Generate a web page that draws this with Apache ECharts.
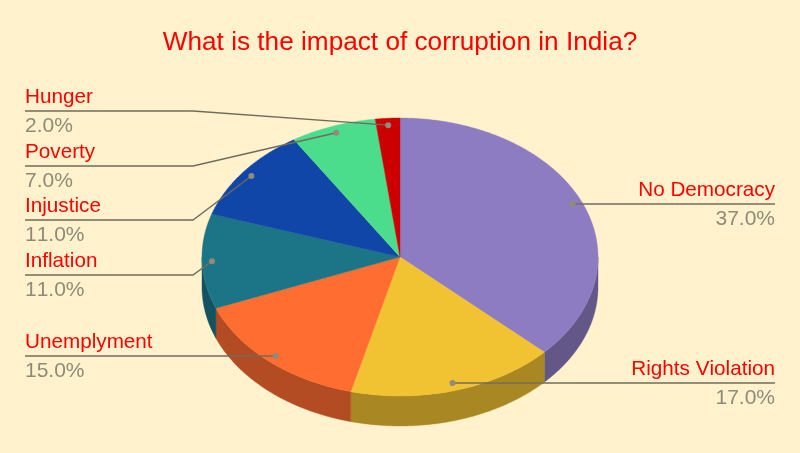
<!DOCTYPE html>
<html><head><meta charset="utf-8">
<style>html,body{margin:0;padding:0;background:#fff2cc}#c{width:800px;height:453px}</style>
<script src="https://cdn.jsdelivr.net/npm/echarts@6/dist/echarts.min.js"></script>
</head><body><div id="c"></div>
<script>
const titleText = 'What is the impact of corruption in India?';
const categories = ['No Democracy','Rights Violation','Unemplyment','Inflation','Injustice','Poverty','Hunger'];
const values = [37,17,15,11,11,7,2];
const topColors = ['#8e7cc3','#f1c232','#ff6d31','#1c7587','#0f46a8','#4cdd8c','#cc0000'];
const sideColors = ['#635788','#a98823','#b34c22','#135260','#0a3175','#359a62','#8f0000'];
// label layout: side, y of the label rule, x of the knee
const labelSide = ['right','right','left','left','left','left','left'];
const labelRuleY = [204,383,356,275,220,166,111];
const kneeX = [null,null,null,193,193,193,193];

const cx=400, cy=257, rx=198, ry=139, depth=30, anchorR=0.95;
const ruleLeft=25, ruleRight=775, nameFont=20.7, pctFont=21;

// the reference sets its text without kerning
const origGetContext = HTMLCanvasElement.prototype.getContext;
HTMLCanvasElement.prototype.getContext = function(){
  const ctx = origGetContext.apply(this, arguments);
  if (ctx && 'fontKerning' in ctx) ctx.fontKerning = 'none';
  return ctx;
};

const total = values.reduce((a,b)=>a+b,0);
const startAngle = i => values.slice(0,i).reduce((a,b)=>a+b,0)/total*360;
const endAngle = i => startAngle(i)+values[i]/total*360;
const pt = (deg,dy=0,f=1)=>{const r=deg*Math.PI/180;return [cx+rx*f*Math.sin(r),cy+ry*f*-Math.cos(r)+dy];};
const arc = (a,b,dy=0)=>{const n=Math.max(2,Math.ceil((b-a)*2));const o=[];for(let k=0;k<=n;k++)o.push(pt(a+(b-a)*k/n,dy));return o;};
const seriesData = values.map((v,i)=>[v,i]);

const option = {
  backgroundColor:'#fff2cc',
  animation:false,
  title:{text:titleText,left:'center',top:25,textStyle:{color:'#ff0000',fontFamily:'Liberation Sans',fontWeight:'normal',fontSize:26.2}},
  series:[
   {type:'custom',name:'sides',coordinateSystem:'none',silent:true,data:seriesData,z:1,
    renderItem(p,api){const i=api.value(1);
      const a=Math.max(startAngle(i),90),b=Math.min(endAngle(i),270);
      if(b<=a) return {type:'group',children:[]};
      const pts=arc(a,b).concat(arc(a,b,depth).reverse());
      return {type:'polygon',shape:{points:pts},style:{fill:sideColors[i],stroke:sideColors[i],lineWidth:0.4}};
    }},
   {type:'custom',name:'tops',coordinateSystem:'none',silent:true,data:seriesData,z:2,
    renderItem(p,api){const i=api.value(1);
      const pts=[[cx,cy]].concat(arc(startAngle(i),endAngle(i)));
      return {type:'polygon',shape:{points:pts},style:{fill:topColors[i],stroke:topColors[i],lineWidth:0.4}};
    }},
   {type:'custom',name:'labels',coordinateSystem:'none',silent:true,data:seriesData,z:3,
    renderItem(p,api){const i=api.value(1);
      const anchor=pt((startAngle(i)+endAngle(i))/2,0,anchorR);
      const left=labelSide[i]==='left', y=labelRuleY[i], ex=left?ruleLeft:ruleRight;
      if(kneeX[i]==null) anchor[1]=y; // straight leaders stay level with their rule
      const line=[[ex,y]]; if(kneeX[i]!=null) line.push([kneeX[i],y]); line.push(anchor);
      const txt=(t,ty,color,fs)=>({type:'text',style:{text:t,x:ex,y:ty,align:left?'left':'right',verticalAlign:'middle',fill:color,font:fs+'px "Liberation Sans"'}});
      return {type:'group',children:[
        {type:'polyline',shape:{points:line},style:{fill:'none',stroke:'#6f6c5e',lineWidth:1.3}},
        {type:'circle',shape:{cx:anchor[0],cy:anchor[1],r:3},style:{fill:'#908c7c'}},
        txt(categories[i],y-13.7,'#ff0000',nameFont),
        txt(values[i].toFixed(1)+'%',y+15,'#8f8b7a',pctFont)
      ]};
    }}
  ]
};
echarts.init(document.getElementById('c'),null,{renderer:'canvas'}).setOption(option);
</script></body></html>
